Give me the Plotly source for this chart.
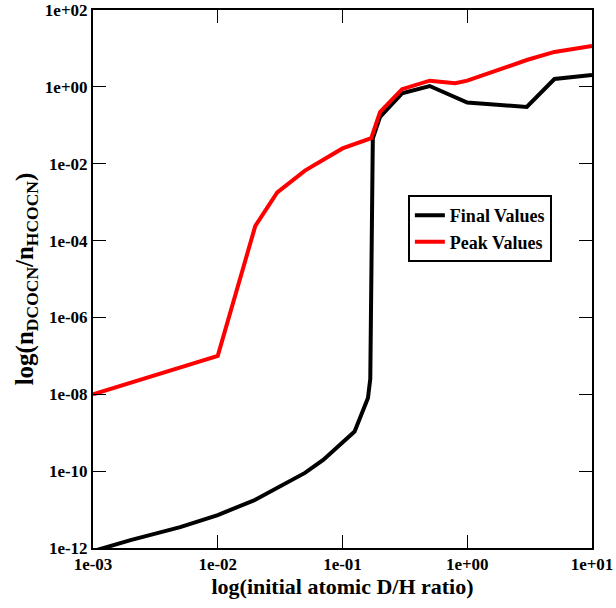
import plotly.graph_objects as go

# Data
final_x = [0.001, 0.002, 0.005, 0.01, 0.02, 0.03, 0.05, 0.07, 0.1, 0.125, 0.16, 0.167, 0.175,
           0.2, 0.3, 0.5, 1.0, 3.0, 5.0, 10.0]
final_y = [8.3e-13, 1.6e-12, 3.5e-12, 7.2e-12, 1.8e-11, 3.6e-11, 9e-11, 1.95e-10, 5.4e-10, 1.07e-9,
           8e-9, 2.5e-8, 0.046, 0.166, 0.68, 1.05, 0.39, 0.30, 1.6, 2.04]

peak_x = [0.001, 0.01, 0.02, 0.03, 0.05, 0.07, 0.1, 0.17, 0.2, 0.3, 0.5, 0.8, 1.0, 3.0, 5.0, 10.0]
peak_y = [1.0e-8, 1.0e-7, 2.4e-4, 1.8e-3, 6.6e-3, 1.25e-2, 2.5e-2, 0.046, 0.22, 0.87, 1.45, 1.24,
          1.45, 5.0, 8.1, 11.5]

x_tickvals = [1e-3, 1e-2, 1e-1, 1e0, 1e1]
x_ticktext = ["1e-03", "1e-02", "1e-01", "1e+00", "1e+01"]
y_tickvals = [1e-12, 1e-10, 1e-8, 1e-6, 1e-4, 1e-2, 1e0, 1e2]
y_ticktext = ["1e-12", "1e-10", "1e-08", "1e-06", "1e-04", "1e-02", "1e+00", "1e+02"]

FONT = "Liberation Serif"

fig = go.Figure()
fig.add_trace(go.Scatter(x=final_x, y=final_y, mode="lines", name="<b>Final Values</b>",
                         line=dict(color="black", width=4)))
fig.add_trace(go.Scatter(x=peak_x, y=peak_y, mode="lines", name="<b>Peak Values</b>",
                         line=dict(color="#ff0000", width=4)))

axis_common = dict(
    showgrid=False, zeroline=False, showline=True, linecolor="black", linewidth=2,
    mirror="ticks", ticks="inside", ticklen=13, tickwidth=1, tickcolor="black",
    automargin=False,
)

fig.update_layout(
    width=616, height=608,
    margin=dict(l=93, r=24, t=10, b=60),
    paper_bgcolor="white", plot_bgcolor="white",
    font=dict(family=FONT, color="black"),
    showlegend=True,
    legend=dict(x=0.631, y=0.656, xanchor="left", yanchor="top",
                bordercolor="black", borderwidth=2, bgcolor="white",
                font=dict(family=FONT, size=18, color="black"),
                tracegroupgap=0),
    xaxis=dict(type="log", range=[-3, 1], tickvals=x_tickvals,
               ticktext=["<b>%s</b>" % t for t in x_ticktext],
               tickfont=dict(family=FONT, size=17, color="black"),
               title=dict(text="<b>log(initial atomic D/H ratio)</b>",
                          font=dict(family=FONT, size=22, color="black"), standoff=4),
               **axis_common),
    yaxis=dict(type="log", range=[-12, 2], tickvals=y_tickvals,
               ticktext=["<b>%s</b>" % t for t in y_ticktext],
               tickfont=dict(family=FONT, size=17, color="black"),
               title=dict(text="<b>log(n<sub>DCOCN</sub>/n<sub>HCOCN</sub>)</b>",
                          font=dict(family=FONT, size=25, color="black"), standoff=4),
               **axis_common),
)

fig.write_html("out.html")
